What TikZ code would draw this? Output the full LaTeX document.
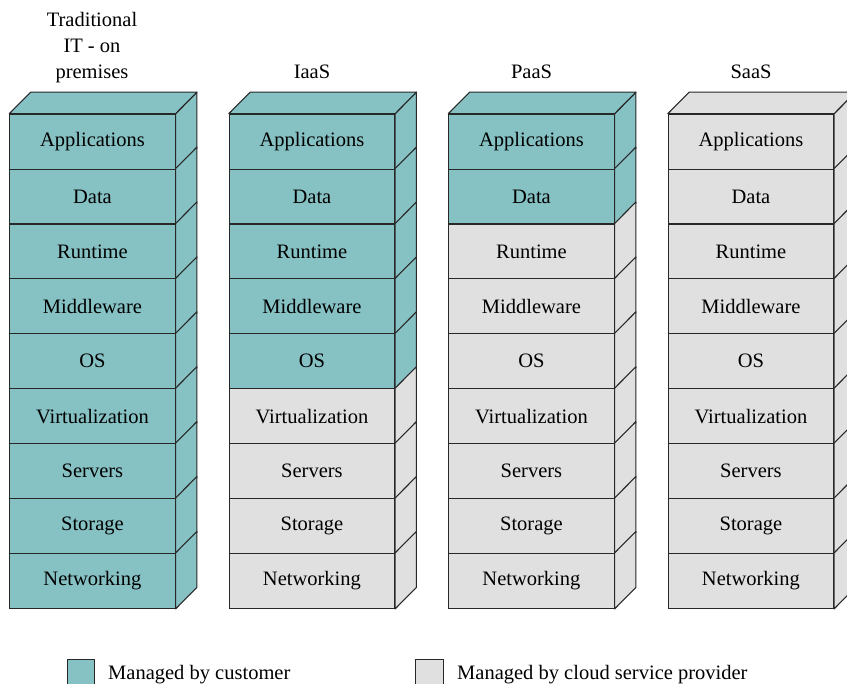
\documentclass[tikz,border=0pt]{standalone}
\usepackage{fontspec}
\setmainfont{Liberation Serif}
\usetikzlibrary{calc}
\definecolor{cust}{RGB}{134,193,196}
\definecolor{prov}{RGB}{224,224,224}
\definecolor{edge}{RGB}{40,40,40}
\begin{document}
\begin{tikzpicture}[x=1pt,y=-1pt,
  layerbox/.style={draw=edge, line width=1.1pt, minimum width=165.2pt, minimum height=54.9pt,
    inner sep=0pt, anchor=north west, font=\fontsize{20.5}{24}\selectfont},
  sideface/.style={draw=edge, line width=1.1pt, line join=round},
  title/.style={align=center, font=\fontsize{20.5}{26}\selectfont},
  legbox/.style={draw=edge, line width=1.1pt, minimum size=27.6pt, inner sep=0pt, anchor=north west},
  legtext/.style={anchor=base west, inner sep=0pt, font=\fontsize{20.5}{24}\selectfont}]
\useasboundingbox (0,0) rectangle (847,684);
\foreach \s/\nc in {0/9,1/5,2/2,3/0}{
  \foreach \lab [count=\k from 0] in {Applications,Data,Runtime,Middleware,OS,Virtualization,Servers,Storage,Networking}{
    \pgfmathsetmacro{\xx}{9.3+\s*219.5}
    \pgfmathsetmacro{\yy}{113.7+\k*54.9}
    \ifnum\k<\nc\def\fc{cust}\else\def\fc{prov}\fi
    \node[layerbox, fill=\fc] (s\s-\k) at (\xx,\yy) {\lab};
    \filldraw[sideface, fill=\fc] (s\s-\k.north east) -- ++(21.3,-21.5)
      -- ($(s\s-\k.south east)+(21.3,-21.5)$) -- (s\s-\k.south east) -- cycle;
    \ifnum\k=0
      \filldraw[sideface, fill=\fc] (s\s-\k.north west) -- ++(21.3,-21.5)
        -- ($(s\s-\k.north east)+(21.3,-21.5)$) -- (s\s-\k.north east) -- cycle;
    \fi
  }
}
\node[title] (t0) at (92,47.5) {Traditional\\IT - on\\premises};
\node[title] (t1) at (312,72) {IaaS};
\node[title] (t2) at (531.5,72) {PaaS};
\node[title] (t3) at (751,72) {SaaS};
\node[legbox, fill=cust] (lc) at (66.7,659) {};
\node[legtext] (lct) at (108,680) {Managed by customer};
\node[legbox, fill=prov] (lp) at (415.3,659) {};
\node[legtext] (lpt) at (457,680) {Managed by cloud service provider};
\end{tikzpicture}
\end{document}
